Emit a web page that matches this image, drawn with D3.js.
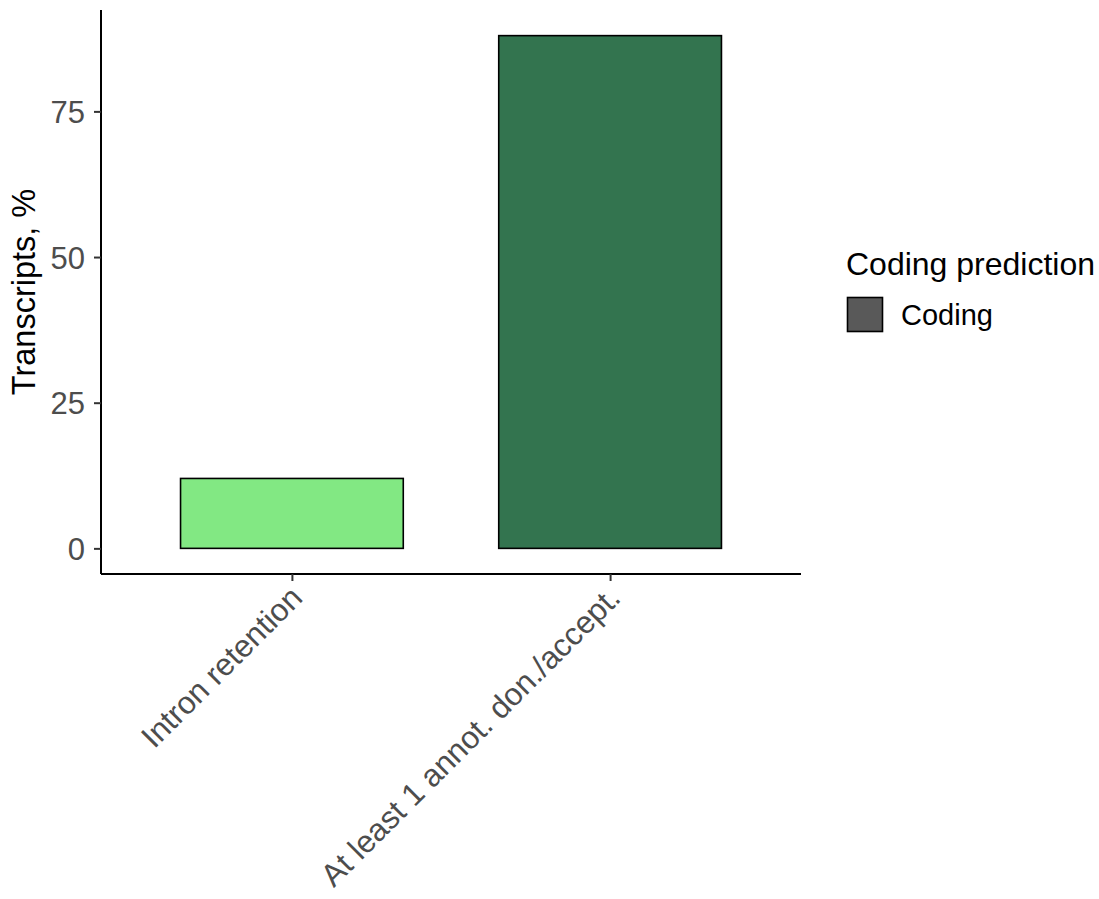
<!DOCTYPE html>
<html>
<head>
<meta charset="utf-8">
<script src="https://cdn.jsdelivr.net/npm/d3@7"></script>
<style>
  html, body { margin: 0; padding: 0; background: #fff; }
  svg { display: block; font-family: "Liberation Sans", Arial, Helvetica, sans-serif; }
</style>
</head>
<body>
<svg id="chart" width="1099" height="899"></svg>
<script>
// ---- data ----
const categories = ["Intron retention", "At least 1 annot. don./accept."];
const values = [12, 88];
const barColors = ["#82E883", "#33744F"];
const yTicks = [0, 25, 50, 75];
const yTitle = "Transcripts, %";
const legendTitle = "Coding prediction";
const legendLabels = ["Coding"];
const legendColors = ["#595959"];

// ---- layout ----
const svg = d3.select("#chart");
const panel = { left: 101, right: 801, top: 10, bottom: 574 };

const yMax = d3.max(values);
const yPad = yMax * 0.05;
const y = d3.scaleLinear()
  .domain([0 - yPad, yMax + yPad])
  .range([panel.bottom, panel.top]);

// discrete scale with 0.6 unit expansion each side, bar width 0.7
const step = (panel.right - panel.left) / (categories.length - 1 + 1.2);
const x = d3.scalePoint().domain(categories)
  .range([panel.left + 0.6 * step, panel.right - 0.6 * step]);
const barW = 0.7 * step;

// bars
svg.append("g").selectAll("rect")
  .data(categories)
  .join("rect")
  .attr("x", d => x(d) - barW / 2)
  .attr("width", barW)
  .attr("y", (d, i) => y(values[i]))
  .attr("height", (d, i) => y(0) - y(values[i]))
  .attr("fill", (d, i) => barColors[i])
  .attr("stroke", "#000")
  .attr("stroke-width", 1.6);

// y axis
const yAxis = d3.axisLeft(y).tickValues(yTicks).tickSize(7).tickPadding(9).tickSizeOuter(0);
const gy = svg.append("g").attr("transform", `translate(${panel.left},0)`).call(yAxis);
gy.select(".domain").attr("d", `M0,${panel.top}V${panel.bottom}`).attr("stroke", "#000").attr("stroke-width", 2);
gy.selectAll(".tick line").attr("stroke", "#333").attr("stroke-width", 2);
gy.selectAll(".tick text").attr("fill", "#4D4D4D").attr("font-size", 31)
  .attr("font-family", "Liberation Sans, Arial, sans-serif").attr("dy", "0.36em");

// x axis
const xAxis = d3.axisBottom(x).tickSize(7).tickPadding(0).tickSizeOuter(0);
const gx = svg.append("g").attr("transform", `translate(0,${panel.bottom})`).call(xAxis);
gx.select(".domain").attr("d", `M${panel.left},0H${panel.right}`).attr("stroke", "#000").attr("stroke-width", 2);
gx.selectAll(".tick line").attr("stroke", "#333").attr("stroke-width", 2);
gx.selectAll(".tick text")
  .attr("fill", "#4D4D4D")
  .attr("font-size", 31.5)
  .attr("font-family", "Liberation Sans, Arial, sans-serif")
  .attr("text-anchor", "end")
  .attr("y", 0)
  .attr("dy", "0.75em")
  .attr("transform", "translate(-5,9) rotate(-45)");

// y title
svg.append("text")
  .attr("transform", `translate(35,${(panel.top + panel.bottom) / 2}) rotate(-90)`)
  .attr("text-anchor", "middle")
  .attr("font-size", 32.5)
  .attr("fill", "#000")
  .text(yTitle);

// legend
const lg = svg.append("g");
lg.append("text")
  .attr("x", 846).attr("y", 275)
  .attr("font-size", 32)
  .attr("fill", "#000")
  .text(legendTitle);
const items = lg.selectAll("g.item").data(legendLabels).join("g").attr("class", "item");
items.append("rect")
  .attr("x", 847.5).attr("y", (d, i) => 297.5 + i * 36)
  .attr("width", 35).attr("height", 34)
  .attr("fill", (d, i) => legendColors[i])
  .attr("stroke", "#000").attr("stroke-width", 1.6);
items.append("text")
  .attr("x", 901).attr("y", (d, i) => 325 + i * 36)
  .attr("font-size", 29)
  .attr("fill", "#000")
  .text(d => d);
</script>
</body>
</html>
